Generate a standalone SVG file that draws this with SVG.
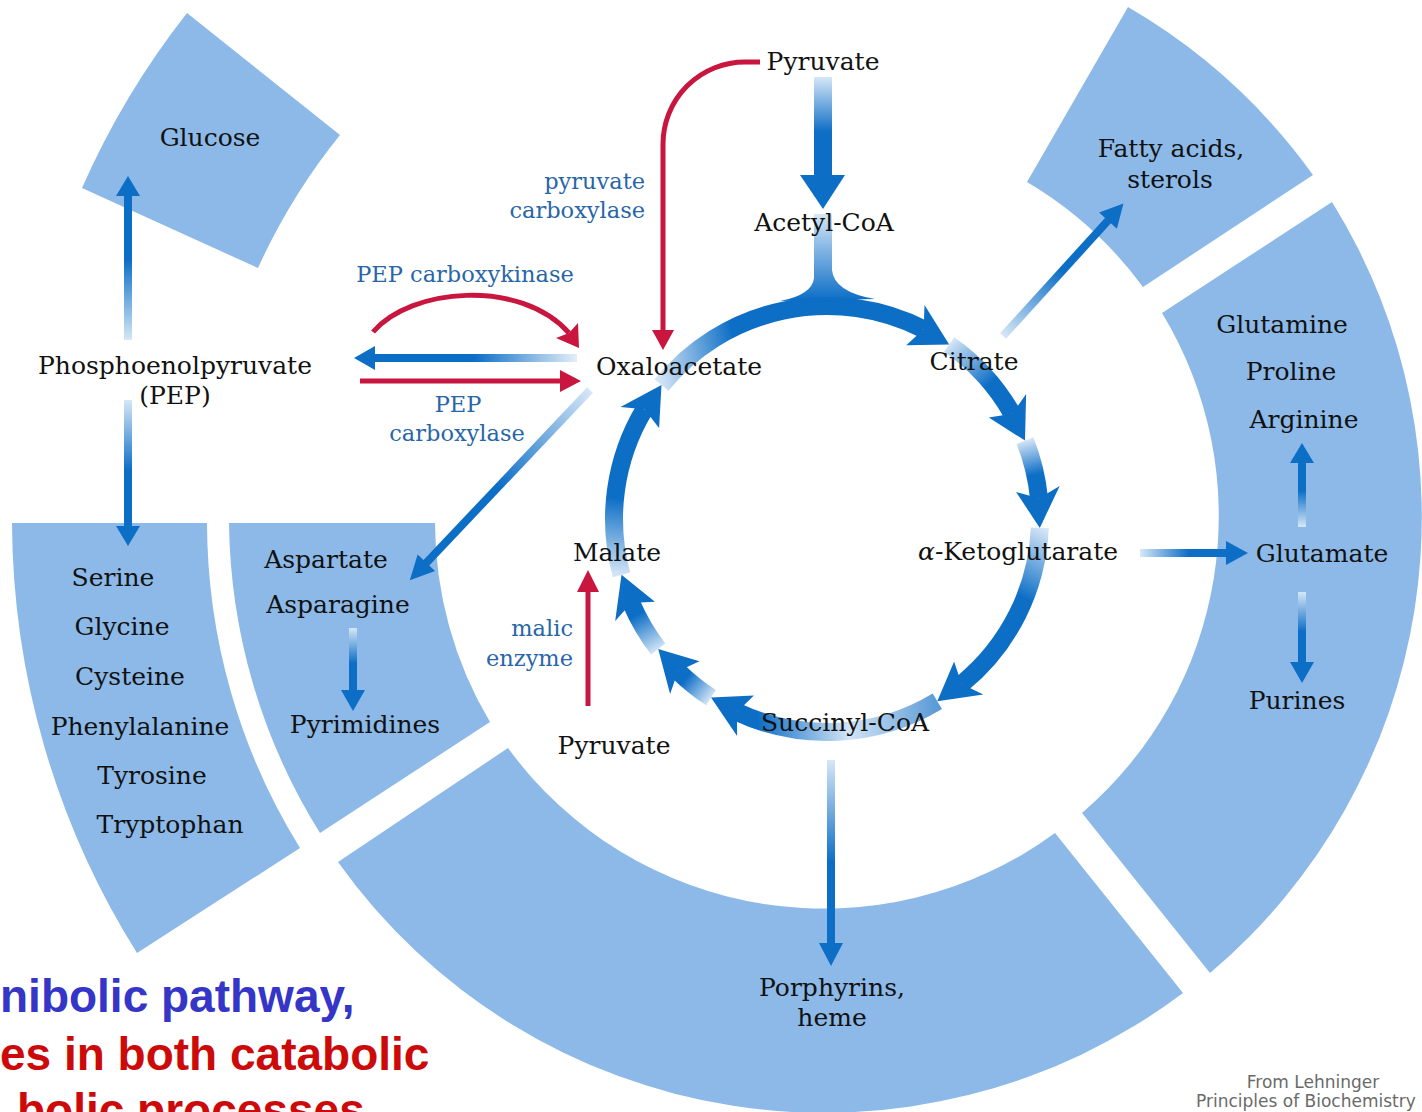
<svg xmlns="http://www.w3.org/2000/svg" width="1422" height="1112" viewBox="0 0 1422 1112">
<defs>
<style>
.seg{fill:#8cb9e8}
.lbl{font-family:"DejaVu Serif","Liberation Serif",serif;font-size:25px;fill:#111;text-anchor:middle}
.enz{font-family:"DejaVu Serif","Liberation Serif",serif;font-size:22.5px;fill:#2866a8}
.ah{fill:#0d6ec6}
.ring{fill:none;stroke-width:18}
.red{stroke:#c8163f;stroke-width:5;fill:none}
.redh{fill:#c8163f}
.big{font-family:"Liberation Sans",Arial,sans-serif;font-weight:bold;font-size:46px}
.cred{font-family:"DejaVu Sans","Liberation Sans",sans-serif;font-size:17px;fill:#6a6a6a}
</style>
<linearGradient id="gUp" x1="0" y1="1" x2="0" y2="0"><stop offset="0" stop-color="#d6e7f7"/><stop offset="0.55" stop-color="#0d6ec6"/><stop offset="1" stop-color="#0d6ec6"/></linearGradient>
<linearGradient id="gDown" x1="0" y1="0" x2="0" y2="1"><stop offset="0" stop-color="#d6e7f7"/><stop offset="0.55" stop-color="#0d6ec6"/><stop offset="1" stop-color="#0d6ec6"/></linearGradient>
<linearGradient id="gRight" x1="0" y1="0" x2="1" y2="0"><stop offset="0" stop-color="#d6e7f7"/><stop offset="0.55" stop-color="#0d6ec6"/><stop offset="1" stop-color="#0d6ec6"/></linearGradient>
<linearGradient id="gLeft" x1="1" y1="0" x2="0" y2="0"><stop offset="0" stop-color="#e4eff9"/><stop offset="0.5" stop-color="#0d6ec6"/><stop offset="1" stop-color="#0d6ec6"/></linearGradient>
<linearGradient id="gPyr" gradientUnits="userSpaceOnUse" x1="0" y1="77" x2="0" y2="177"><stop offset="0" stop-color="#d6e7f7"/><stop offset="0.55" stop-color="#0d6ec6"/><stop offset="1" stop-color="#0d6ec6"/></linearGradient>
<linearGradient id="gAce" gradientUnits="userSpaceOnUse" x1="0" y1="214" x2="0" y2="300"><stop offset="0" stop-color="#d6e7f7"/><stop offset="1" stop-color="#0d6ec6"/></linearGradient>
<linearGradient id="s1" gradientUnits="userSpaceOnUse" x1="661.5" y1="385" x2="923.7" y2="329.2"><stop offset="0" stop-color="#d2e4f6"/><stop offset="0.3" stop-color="#0d6ec6"/><stop offset="1" stop-color="#0d6ec6"/></linearGradient>
<linearGradient id="s2" gradientUnits="userSpaceOnUse" x1="949.2" y1="344.5" x2="1012.2" y2="413.8"><stop offset="0" stop-color="#d2e4f6"/><stop offset="0.6" stop-color="#0d6ec6"/><stop offset="1" stop-color="#0d6ec6"/></linearGradient>
<linearGradient id="s3" gradientUnits="userSpaceOnUse" x1="1025" y1="440.6" x2="1039" y2="498.2"><stop offset="0" stop-color="#d2e4f6"/><stop offset="0.6" stop-color="#0d6ec6"/><stop offset="1" stop-color="#0d6ec6"/></linearGradient>
<linearGradient id="s4" gradientUnits="userSpaceOnUse" x1="1039.8" y1="527.9" x2="961.6" y2="684.1"><stop offset="0" stop-color="#d2e4f6"/><stop offset="0.4" stop-color="#0d6ec6"/><stop offset="1" stop-color="#0d6ec6"/></linearGradient>
<linearGradient id="s5" gradientUnits="userSpaceOnUse" x1="937.3" y1="701.2" x2="737" y2="712"><stop offset="0" stop-color="#5a9ad6"/><stop offset="0.45" stop-color="#d2e4f6"/><stop offset="0.9" stop-color="#0d6ec6"/></linearGradient>
<linearGradient id="s6" gradientUnits="userSpaceOnUse" x1="711" y1="697.6" x2="678" y2="671.2"><stop offset="0" stop-color="#cfe2f5"/><stop offset="0.75" stop-color="#0d6ec6"/></linearGradient>
<linearGradient id="s7" gradientUnits="userSpaceOnUse" x1="658.2" y1="649" x2="631.2" y2="602.9"><stop offset="0" stop-color="#cfe2f5"/><stop offset="0.75" stop-color="#0d6ec6"/></linearGradient>
<linearGradient id="s8" gradientUnits="userSpaceOnUse" x1="621.5" y1="574.8" x2="644.4" y2="409.3"><stop offset="0" stop-color="#d2e4f6"/><stop offset="0.45" stop-color="#0d6ec6"/><stop offset="1" stop-color="#0d6ec6"/></linearGradient>
</defs>
<rect width="1422" height="1112" fill="#ffffff"/>

<g id="sectors">
<g id="sec-glucose"><path class="seg" d="M82,188 A815,815 0 0 1 187,13 L340,135 A619,619 0 0 0 258,268 Z"/></g>
<g id="sec-serine"><path class="seg" d="M12,523 L207,523 A619,619 0 0 0 300,848 L137,953 A815,815 0 0 1 12,523 Z"/></g>
<g id="sec-aspartate"><path class="seg" d="M229,523 L435,523 A391,391 0 0 0 490,722 L320,833 A597,597 0 0 1 229,523 Z"/></g>
<g id="sec-porphyrins"><path class="seg" d="M508,748 L338,862 A597,597 0 0 0 1183,993 L1055,833 A391,391 0 0 1 508,748 Z"/></g>
<g id="sec-glutamate"><path class="seg" d="M1162,313 L1332,202 A597,597 0 0 1 1210,973 L1082,813 A391,391 0 0 0 1162,313 Z"/></g>
<g id="sec-fatty"><path class="seg" d="M1027,182 L1128,7 A597,597 0 0 1 1313,175 L1143,287 A391,391 0 0 0 1027,182 Z"/></g>
</g>

<g id="connectors">
<!-- Pyruvate to Acetyl-CoA -->
<rect x="814" y="77" width="18" height="100" fill="url(#gPyr)"/>
<polygon class="ah" points="800,175 845,175 823,209"/>
<!-- Acetyl-CoA into cycle -->
<path d="M814,214 L832,214 L832,270 Q834,292 875,299 L780,301 Q812,295 814,278 Z" fill="url(#gAce)"/>
<!-- TCA ring -->
<path class="ring" stroke="url(#s1)" d="M661.5,385 A213,213 0 0 1 923.7,329.2"/>
<polygon class="ah" points="949.2,344.5 924.5,305.1 923.7,329.2 906.2,345.2"/>
<path class="ring" stroke="url(#s2)" d="M949.2,344.5 A213,213 0 0 1 1012.2,413.8"/>
<polygon class="ah" points="1025,440.6 1026.1,394.1 1012.2,413.8 988.8,417.5"/>
<path class="ring" stroke="url(#s3)" d="M1025,440.6 A213,213 0 0 1 1039,498.2"/>
<polygon class="ah" points="1039.8,527.9 1059.7,485.9 1039,498.2 1016.1,492.1"/>
<path class="ring" stroke="url(#s4)" d="M1039.8,527.9 A213,213 0 0 1 961.6,684.1"/>
<polygon class="ah" points="937.3,701.2 983.3,694.5 961.6,684.1 954.1,661.6"/>
<path class="ring" stroke="url(#s5)" d="M937.3,701.2 A213,213 0 0 1 737,712"/>
<polygon class="ah" points="711,697.6 737.1,736.1 737,712 753.9,695.5"/>
<path class="ring" stroke="url(#s6)" d="M711,697.6 A213,213 0 0 1 678,671.2"/>
<polygon class="ah" points="658.2,649 670.1,693.9 678,671.2 699.5,661.2"/>
<path class="ring" stroke="url(#s7)" d="M658.2,649 A213,213 0 0 1 631.2,602.9"/>
<polygon class="ah" points="621.5,574.8 615.2,620.9 631.2,602.9 654.9,601.8"/>
<path class="ring" stroke="url(#s8)" d="M621.5,574.8 A213,213 0 0 1 644.4,409.3"/>
<polygon class="ah" points="661.5,385 620.5,406.9 644.4,409.3 659.1,427.9"/>
<!-- red: pyruvate carboxylase -->
<path class="red" d="M760,62 L745,62 A82,82 0 0 0 663,144 L663,332"/>
<polygon class="redh" points="652,330 674,330 663,350"/>
<!-- red: malic enzyme -->
<line class="red" x1="588" y1="706" x2="588" y2="588"/>
<polygon class="redh" points="577,592 599,592 588,570"/>
<!-- red: PEP carboxykinase -->
<path class="red" d="M373,332 C410,288 520,278 569,333"/>
<polygon class="redh" points="579,348 556,338 569,333 578,323"/>
<!-- blue: oxaloacetate to PEP -->
<rect x="372" y="354" width="205" height="8" fill="url(#gLeft)"/>
<polygon class="ah" points="354,358 375,346 375,370"/>
<!-- red: PEP carboxylase -->
<line class="red" x1="360" y1="381" x2="563" y2="381" stroke-width="6"/>
<polygon class="redh" points="581,381 560,370 560,392"/>
<!-- oxaloacetate to aspartate -->
<g transform="translate(590,390) rotate(133.45)">
<rect x="0" y="-4" width="242" height="8" fill="url(#gRight)"/>
<polygon class="ah" points="238,-12 262,0 238,12"/>
</g>
<!-- PEP to glucose -->
<rect x="124" y="194" width="8" height="146" fill="url(#gUp)"/>
<polygon class="ah" points="116,196 140,196 128,176"/>
<!-- PEP to serine -->
<rect x="124" y="400" width="8" height="128" fill="url(#gDown)"/>
<polygon class="ah" points="116,526 140,526 128,546"/>
<!-- aspartate to pyrimidines -->
<rect x="349" y="628" width="8" height="64" fill="url(#gDown)"/>
<polygon class="ah" points="341,690 365,690 353,711"/>
<!-- citrate to fatty acids -->
<g transform="translate(1003,336) rotate(-47.7)">
<rect x="0" y="-4" width="160" height="8" fill="url(#gRight)"/>
<polygon class="ah" points="156,-12 179,0 156,12"/>
</g>
<!-- alpha-KG to glutamate -->
<rect x="1140" y="549" width="88" height="8" fill="url(#gRight)"/>
<polygon class="ah" points="1226,541 1226,565 1248,553"/>
<!-- glutamate to arginine -->
<rect x="1298" y="461" width="8" height="66" fill="url(#gUp)"/>
<polygon class="ah" points="1290,463 1314,463 1302,443"/>
<!-- glutamate to purines -->
<rect x="1298" y="592" width="8" height="72" fill="url(#gDown)"/>
<polygon class="ah" points="1290,662 1314,662 1302,683"/>
<!-- succinyl-CoA to porphyrins -->
<rect x="827" y="760" width="8" height="185" fill="url(#gDown)"/>
<polygon class="ah" points="819,943 843,943 831,966"/>
</g>

<g id="n-pyruvate-top"><text class="lbl" x="823" y="70">Pyruvate</text></g>
<g id="n-acetylcoa"><text class="lbl" x="824" y="231">Acetyl-CoA</text></g>
<g id="n-citrate"><text class="lbl" x="974" y="370">Citrate</text></g>
<g id="n-oxaloacetate"><text class="lbl" x="679" y="375">Oxaloacetate</text></g>
<g id="n-akg"><text class="lbl" x="1018" y="560"><tspan font-style="italic">α</tspan>-Ketoglutarate</text></g>
<g id="n-malate"><text class="lbl" x="617" y="561">Malate</text></g>
<g id="n-succinylcoa"><text class="lbl" x="845" y="731">Succinyl-CoA</text></g>
<g id="n-pyruvate-bottom"><text class="lbl" x="614" y="754">Pyruvate</text></g>
<g id="n-pep"><text class="lbl" x="175" y="374">Phosphoenolpyruvate</text><text class="lbl" x="175" y="404">(PEP)</text></g>
<g id="n-glucose"><text class="lbl" x="210" y="146">Glucose</text></g>
<g id="n-serine-group">
<text class="lbl" x="113" y="586">Serine</text>
<text class="lbl" x="122" y="635">Glycine</text>
<text class="lbl" x="130" y="685">Cysteine</text>
<text class="lbl" x="140" y="735">Phenylalanine</text>
<text class="lbl" x="152" y="784">Tyrosine</text>
<text class="lbl" x="170" y="833">Tryptophan</text>
</g>
<g id="n-aspartate"><text class="lbl" x="326" y="568">Aspartate</text><text class="lbl" x="338" y="613">Asparagine</text></g>
<g id="n-pyrimidines"><text class="lbl" x="365" y="733">Pyrimidines</text></g>
<g id="n-porphyrins"><text class="lbl" x="832" y="996">Porphyrins,</text><text class="lbl" x="832" y="1026">heme</text></g>
<g id="n-fatty"><text class="lbl" x="1171" y="157">Fatty acids,</text><text class="lbl" x="1170" y="188">sterols</text></g>
<g id="n-glutamine-group">
<text class="lbl" x="1282" y="333">Glutamine</text>
<text class="lbl" x="1291" y="380">Proline</text>
<text class="lbl" x="1304" y="428">Arginine</text>
</g>
<g id="n-glutamate"><text class="lbl" x="1322" y="562">Glutamate</text></g>
<g id="n-purines"><text class="lbl" x="1297" y="709">Purines</text></g>

<g id="enzymes">
<text class="enz" x="645" y="189" text-anchor="end">pyruvate</text>
<text class="enz" x="645" y="218" text-anchor="end">carboxylase</text>
<text class="enz" x="465" y="282" text-anchor="middle">PEP carboxykinase</text>
<text class="enz" x="458" y="412" text-anchor="middle">PEP</text>
<text class="enz" x="457" y="441" text-anchor="middle">carboxylase</text>
<text class="enz" x="573" y="636" text-anchor="end">malic</text>
<text class="enz" x="573" y="666" text-anchor="end">enzyme</text>
</g>

<g id="caption">
<text class="big" x="0" y="1012" fill="#3535c8">nibolic pathway,</text>
<text class="big" x="0" y="1070" fill="#cc0a0a">es in both catabolic</text>
<text class="big" x="17" y="1126" fill="#cc0a0a">bolic processes</text>
</g>
<g id="credit">
<text class="cred" x="1313" y="1088" text-anchor="middle">From Lehninger</text>
<text class="cred" x="1196" y="1107">Principles of Biochemistry</text>
</g>
</svg>
